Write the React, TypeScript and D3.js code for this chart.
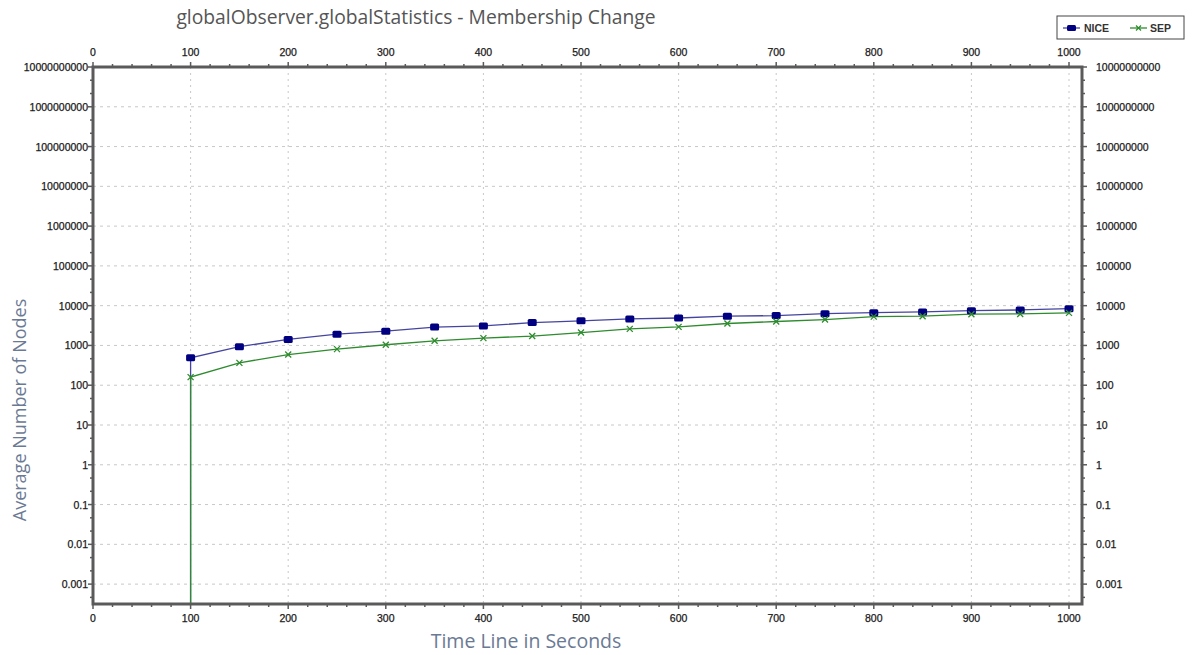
import React from "react";
import * as d3 from "d3";

const times = [100, 100, 150, 200, 250, 300, 350, 400, 450, 500, 550, 600, 650, 700, 750, 800, 850, 900, 950, 1000];
const niceValues = [0, 490, 930, 1420, 1920, 2290, 2900, 3100, 3750, 4150, 4650, 4900, 5430, 5620, 6300, 6680, 6950, 7500, 7800, 8400];
const sepValues = [0, 160, 365, 590, 810, 1040, 1310, 1530, 1720, 2110, 2610, 2930, 3560, 4000, 4470, 5300, 5430, 6100, 6200, 6600];
const xTicks = [0, 100, 200, 300, 400, 500, 600, 700, 800, 900, 1000];
const yTicks = [1e10, 1e9, 1e8, 1e7, 1e6, 1e5, 1e4, 1000, 100, 10, 1, 0.1, 0.01, 0.001];
const yTickLabels = ["10000000000", "1000000000", "100000000", "10000000", "1000000", "100000", "10000", "1000", "100", "10", "1", "0.1", "0.01", "0.001"];
const seriesNames = ["NICE", "SEP"];
const title = "globalObserver.globalStatistics - Membership Change";
const xTitle = "Time Line in Seconds";
const yTitle = "Average Number of Nodes";

const W = 1195, H = 655;
const L = 93, R = 1082, T = 67, B = 604;

export default function App() {
  const x = d3.scaleLinear().domain([0, 1000]).range([L, 1069]);
  const y = d3.scaleLog().domain([Math.pow(10, -3.5), 1e10]).range([B, T]).clamp(true);
  const yv = (v: number) => (v > 0 ? y(v) : B);

  const line = d3
    .line<number>()
    .x((_, i) => x(times[i]))
    .y((v) => yv(v));

  const xMinor = d3.range(0, 1001, 20).filter((t) => t % 100 !== 0);
  const yMinor: number[] = [];
  for (let e = -4; e < 10; e++) {
    [1 / 3, 2 / 3].forEach((f) => {
      const v = Math.pow(10, e + f);
      if (v > Math.pow(10, -3.5) && v < 1e10) yMinor.push(v);
    });
  }

  const axisColor = "#5a5a5a";
  const tickFont = { fontFamily: "Liberation Sans, Arial, sans-serif", fontSize: 10.5, fill: "#1a1a1a", stroke: "#1a1a1a", strokeWidth: 0.25 };
  const blue = "#000080";
  const green = "#2e8b2e";
  const titleFont = "Open Sans, sans-serif";

  return (
    <svg width={W} height={H} style={{ position: "absolute", left: 0, top: 0, background: "#fff" }}>
      <rect x={0} y={0} width={W} height={H} fill="#fff" />
      {/* grid */}
      {xTicks.map((t) => (
        <line key={"gx" + t} x1={x(t)} x2={x(t)} y1={T} y2={B} stroke="#c8c8c8" strokeDasharray="2,4" />
      ))}
      {yTicks.map((t) => (
        <line key={"gy" + t} x1={L} x2={R} y1={y(t)} y2={y(t)} stroke="#c8c8c8" strokeDasharray="3,4" />
      ))}

      {/* series */}
      <path d={line(niceValues) || ""} fill="none" stroke="#4545a0" strokeWidth={1.3} />
      <path d={line(sepValues) || ""} fill="none" stroke={green} strokeWidth={1.3} />
      {niceValues.map((v, i) =>
        v > 0 ? <rect key={"n" + i} x={x(times[i]) - 4.5} y={yv(v) - 3.5} width={9} height={7} rx={1.5} fill={blue} /> : null
      )}
      {sepValues.map((v, i) =>
        v > 0 ? (
          <g key={"s" + i} stroke={green} strokeWidth={1.3}>
            <line x1={x(times[i]) - 3} x2={x(times[i]) + 3} y1={yv(v) - 3} y2={yv(v) + 3} />
            <line x1={x(times[i]) - 3} x2={x(times[i]) + 3} y1={yv(v) + 3} y2={yv(v) - 3} />
          </g>
        ) : null
      )}

      {/* frame */}
      <rect x={L} y={T} width={R - L} height={B - T} fill="none" stroke={axisColor} strokeWidth={3} />

      {/* x ticks bottom & top */}
      {xTicks.map((t) => (
        <g key={"xt" + t}>
          <line x1={x(t)} x2={x(t)} y1={B} y2={B + 5} stroke={axisColor} strokeWidth={1.5} />
          <line x1={x(t)} x2={x(t)} y1={T} y2={T - 5} stroke={axisColor} strokeWidth={1.5} />
          <text x={x(t)} y={B + 18} textAnchor="middle" {...tickFont}>{t}</text>
          <text x={x(t)} y={T - 11} textAnchor="middle" {...tickFont}>{t}</text>
        </g>
      ))}
      {xMinor.map((t) => (
        <g key={"xm" + t}>
          <line x1={x(t)} x2={x(t)} y1={B} y2={B + 3} stroke={axisColor} strokeWidth={1.5} />
          <line x1={x(t)} x2={x(t)} y1={T} y2={T - 3} stroke={axisColor} strokeWidth={1.5} />
        </g>
      ))}

      {/* y ticks left & right */}
      {yTicks.map((t, i) => (
        <g key={"yt" + t}>
          <line x1={L} x2={L - 5} y1={y(t)} y2={y(t)} stroke={axisColor} strokeWidth={1.5} />
          <line x1={R} x2={R + 5} y1={y(t)} y2={y(t)} stroke={axisColor} strokeWidth={1.5} />
          <text x={L - 5} y={y(t) + 4} textAnchor="end" {...tickFont}>{yTickLabels[i]}</text>
          <text x={R + 14} y={y(t) + 4} textAnchor="start" {...tickFont}>{yTickLabels[i]}</text>
        </g>
      ))}
      {yMinor.map((t) => (
        <g key={"ym" + t}>
          <line x1={L} x2={L - 3} y1={y(t)} y2={y(t)} stroke={axisColor} strokeWidth={1.5} />
          <line x1={R} x2={R + 3} y1={y(t)} y2={y(t)} stroke={axisColor} strokeWidth={1.5} />
        </g>
      ))}

      {/* titles */}
      <text x={416} y={24} textAnchor="middle" fontFamily={titleFont} fontSize={19.3} fill="#555">{title}</text>
      <text x={526} y={648} textAnchor="middle" fontFamily={titleFont} fontSize={19.5} fill="#6b7a94">{xTitle}</text>
      <text transform={`translate(26,410) rotate(-90)`} x={0} y={0} textAnchor="middle" fontFamily={titleFont} fontSize={18} fill="#6b7a94">{yTitle}</text>

      {/* legend */}
      <g>
        <rect x={1057} y={16} width={127} height={23} fill="#fff" stroke="#444" strokeWidth={1} />
        <line x1={1063} x2={1080} y1={28} y2={28} stroke="#4545a0" strokeWidth={1.3} />
        <rect x={1067} y={25} width={9} height={6} rx={1.5} fill={blue} />
        <text x={1084} y={32} fontFamily="Liberation Sans, Arial, sans-serif" fontSize={10.5} fontWeight="bold" fill="#333">{seriesNames[0]}</text>
        <line x1={1130} x2={1147} y1={28} y2={28} stroke={green} strokeWidth={1.3} />
        <g stroke={green} strokeWidth={1.2}>
          <line x1={1136} x2={1141} y1={25.5} y2={30.5} />
          <line x1={1136} x2={1141} y1={30.5} y2={25.5} />
        </g>
        <text x={1150} y={32} fontFamily="Liberation Sans, Arial, sans-serif" fontSize={10.5} fontWeight="bold" fill="#333">{seriesNames[1]}</text>
      </g>
    </svg>
  );
}
